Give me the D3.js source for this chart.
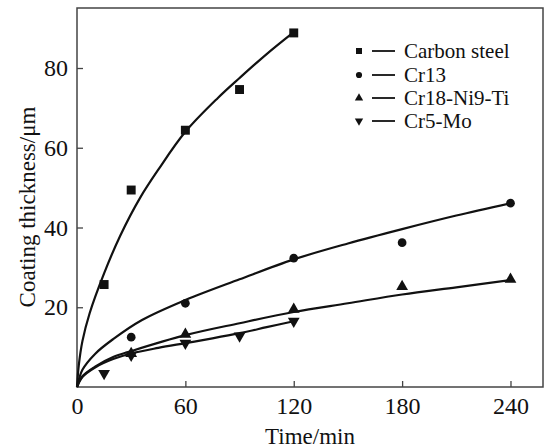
<!DOCTYPE html>
<html>
  <head>
    <meta charset="utf-8" />
    <title>Coating thickness vs time</title>
    <script src="https://d3js.org/d3.v7.min.js"></script>
    <style>
      body { margin: 0; background: #fff; }
      text { font-family: "Liberation Serif", "Times New Roman", serif; fill: #111; }
    </style>
  </head>

  <body>
    <svg width="547" height="448"></svg>

    <script type="text/javascript">
      // measured points (time in min, thickness in um)
      var seriesNames = ["Carbon steel", "Cr13", "Cr18-Ni9-Ti", "Cr5-Mo"];

      var carbonTime = [15, 30, 60, 90, 120];
      var carbonThick = [25.7, 49.4, 64.4, 74.6, 88.8];
      var cr13Time = [30, 60, 120, 180, 240];
      var cr13Thick = [12.5, 21, 32.3, 36.2, 46.1];
      var cr18Time = [30, 60, 120, 180, 240];
      var cr18Thick = [8.4, 13.2, 19.5, 25.2, 27];
      var cr5Time = [15, 30, 60, 90, 120];
      var cr5Thick = [3.4, 8.0, 11, 12.8, 16.5];

      // fitted curves
      var carbonFitTime = [0, 1, 3, 7, 15, 24, 35, 45, 60, 78, 90, 105, 120];
      var carbonFitThick = [0, 5.5, 11.5, 18.5, 28.5, 38, 47.5, 54.5, 64, 72.5, 77.5, 83.5, 89];
      var cr13FitTime = [0, 3, 10, 20, 36, 60, 90, 120, 150, 180, 210, 240];
      var cr13FitThick = [0, 4.3, 8.3, 12, 16.8, 21.8, 27, 32, 36, 39.6, 43, 46.1];
      var cr18FitTime = [0, 3, 10, 20, 30, 60, 90, 120, 150, 180, 210, 240];
      var cr18FitThick = [0, 2.7, 5.1, 7.5, 9, 13, 16, 18.8, 21, 23.2, 25, 26.8];
      var cr5FitTime = [0, 3, 10, 20, 30, 45, 60, 75, 90, 105, 120];
      var cr5FitThick = [0, 2.5, 4.9, 7, 8.4, 9.8, 11, 12.2, 13.5, 15, 16.5];

      var xTicks = [0, 60, 120, 180, 240];
      var yTicks = [20, 40, 60, 80];

      var svg = d3.select("svg");
      var serif = '"Liberation Serif", "Times New Roman", serif';

      var xScale = d3.scaleLinear().domain([0, 258]).range([77, 543]);
      var yScale = d3.scaleLinear().domain([0, 95.05]).range([387, 8]);

      function zip(a, b) {
        return a.map(function (v, i) {
          return [v, b[i]];
        });
      }

      // frame
      svg
        .append("rect")
        .attr("x", xScale(0))
        .attr("y", yScale(95.05))
        .attr("width", xScale(258) - xScale(0))
        .attr("height", yScale(0) - yScale(95.05))
        .attr("fill", "none")
        .attr("stroke", "#444")
        .attr("stroke-width", 1.5);

      // axes
      var xAxis = svg
        .append("g")
        .attr("transform", "translate(0," + yScale(0) + ")")
        .call(
          d3.axisBottom(xScale).tickValues(xTicks).tickSizeInner(-6).tickSizeOuter(0).tickPadding(10)
        );
      var yAxis = svg
        .append("g")
        .attr("transform", "translate(" + xScale(0) + ",0)")
        .call(
          d3.axisLeft(yScale).tickValues(yTicks).tickSizeInner(-6).tickSizeOuter(0).tickPadding(9)
        );
      [xAxis, yAxis].forEach(function (ax) {
        ax.attr("font-family", serif).attr("font-size", 24);
        ax.select(".domain").remove();
        ax.selectAll(".tick line").attr("stroke", "#444").attr("stroke-width", 1.3);
        ax.selectAll(".tick text").attr("fill", "#111");
      });

      // axis titles
      svg
        .append("text")
        .attr("x", 310)
        .attr("y", 444)
        .attr("text-anchor", "middle")
        .style("font-size", "23px")
        .text("Time/min");
      svg
        .append("text")
        .attr("transform", "translate(35,207) rotate(-90)")
        .attr("text-anchor", "middle")
        .style("font-size", "23px")
        .text("Coating thickness/\u03bcm");

      // fitted curves
      var line = d3
        .line()
        .x(function (d) {
          return xScale(d[0]);
        })
        .y(function (d) {
          return yScale(d[1]);
        })
        .curve(d3.curveCatmullRom.alpha(0.5));

      var fits = [
        zip(carbonFitTime, carbonFitThick),
        zip(cr13FitTime, cr13FitThick),
        zip(cr18FitTime, cr18FitThick),
        zip(cr5FitTime, cr5FitThick)
      ];
      fits.forEach(function (f) {
        svg
          .append("path")
          .attr("fill", "none")
          .attr("stroke", "#111")
          .attr("stroke-width", 2.2)
          .attr("stroke-linejoin", "round")
          .attr("d", line(f));
      });

      // markers
      var points = [
        zip(carbonTime, carbonThick),
        zip(cr13Time, cr13Thick),
        zip(cr18Time, cr18Thick),
        zip(cr5Time, cr5Thick)
      ];
      var symbols = [d3.symbolSquare, d3.symbolCircle, d3.symbolTriangle, d3.symbolTriangle];
      var sizes = [80, 60, 60, 60];
      var rotations = [0, 0, 0, 180];

      points.forEach(function (p, i) {
        svg
          .append("g")
          .selectAll("path")
          .data(p)
          .enter()
          .append("path")
          .attr("d", d3.symbol().type(symbols[i]).size(sizes[i]))
          .attr("transform", function (d) {
            return "translate(" + xScale(d[0]) + "," + yScale(d[1]) + ") rotate(" + rotations[i] + ")";
          })
          .attr("fill", "#111");
      });

      // legend
      var legendY = [51, 75, 98, 121];
      var legendSizes = [36, 30, 30, 30];
      seriesNames.forEach(function (name, i) {
        var g = svg.append("g").attr("transform", "translate(359," + legendY[i] + ")");
        g.append("path")
          .attr("d", d3.symbol().type(symbols[i]).size(legendSizes[i]))
          .attr("transform", "rotate(" + rotations[i] + ")")
          .attr("fill", "#111");
        g.append("line")
          .attr("x1", 13)
          .attr("x2", 36)
          .attr("y1", 0)
          .attr("y2", 0)
          .attr("stroke", "#111")
          .attr("stroke-width", 1.8);
        g.append("text")
          .attr("x", 45)
          .attr("y", 0)
          .attr("dy", "0.33em")
          .style("font-size", "21px")
          .text(name);
      });
    </script>
  </body>
</html>
